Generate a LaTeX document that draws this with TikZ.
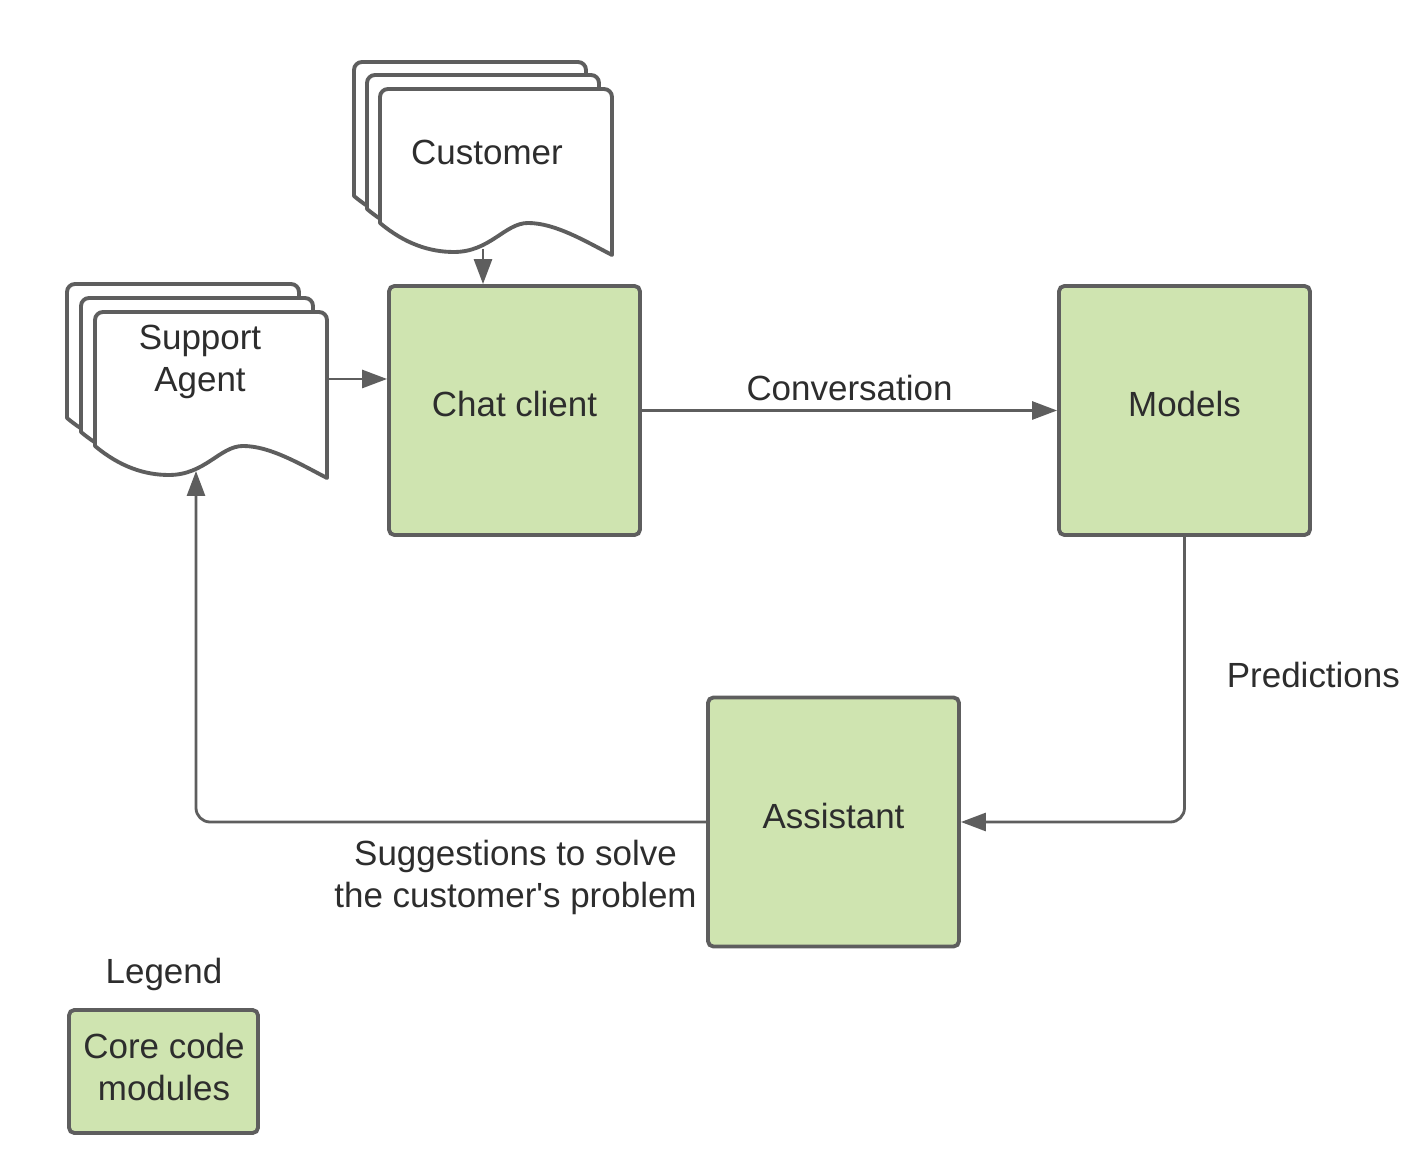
\documentclass[tikz,border=0pt]{standalone}
\usepackage{fontspec}
\setmainfont{Liberation Sans}
\usetikzlibrary{arrows.meta}
\definecolor{coregreen}{RGB}{207,228,176}
\definecolor{edgegray}{RGB}{94,94,94}
\definecolor{txtgray}{RGB}{45,45,45}
\tikzset{
  core/.style={draw=edgegray, line width=2.2pt, fill=coregreen, rounded corners=3pt, inner sep=0pt},
  mainbox/.style={core, minimum width=5.02cm, minimum height=4.98cm, text depth=7.4pt},
  page/.style={draw=edgegray, line width=2.2pt, fill=white, line join=round},
  conn/.style={draw=edgegray, line width=1.6pt, -{Triangle[length=0.5cm,width=0.36cm]}},
  lbl/.style={inner sep=0pt, align=center}
}
\newcommand\docpage[2]{%
  \path[page, shift={(#1,#2)}] (0,134) -- (0,8) .. controls (0,3.6) and (3.6,0) .. (8,0)
    -- (224,0) .. controls (228.4,0) and (232,3.6) .. (232,8) -- (232,166)
    .. controls (205,152) and (175,134) .. (148,134)
    .. controls (125,134) and (110,163) .. (74,163)
    .. controls (50,163) and (25,155) .. (0,134) -- cycle;}
\begin{document}
\begin{tikzpicture}[x=0.02cm, y=-0.02cm, font=\fontsize{19.9}{23.9}\selectfont, text=txtgray]
\useasboundingbox[fill=white] (0,0) rectangle (1428,1168);

% Customer stack
\docpage{354}{62}
\docpage{367}{75}
\docpage{380}{89}
\node[lbl] (customer) at (487,152) {Customer};
\coordinate (custout) at (483,249);

% Support agent stack
\docpage{67}{284}
\docpage{81}{298}
\docpage{95}{312}
\node[lbl] (agent) at (200,362) {Support\\Agent};
\coordinate (agentout) at (327,379);
\coordinate (agentin) at (196,471);

% Core boxes
\node[mainbox] (chat) at (514.5,410.5) {Chat client};
\node[mainbox] (models) at (1184.5,410.5) {Models};
\node[mainbox] (assistant) at (833.5,822) {Assistant};

% Connectors
\draw[conn] (custout) -- (custout |- chat.north);
\draw[conn] (agentout) -- (agentout -| chat.west);
\draw[conn] (chat.east) -- node[lbl, midway, above=4.8pt] (conv) {Conversation} (models.west);
\draw[conn, rounded corners=8pt] (models.south) |- node[lbl, pos=0.25, anchor=west, xshift=0.82cm, yshift=0.08cm] (pred) {Predictions} (assistant.east);
\draw[conn, rounded corners=8pt] (assistant.west) -| (agentin);
\node[lbl, anchor=north east] (sugg) at (697,840) {Suggestions to solve\\the customer\textquotesingle s problem};

% Legend
\node[lbl] (legend) at (164,974) {Legend};
\node[core, minimum width=3.78cm, minimum height=2.46cm] (legbox) at (163.5,1071.5) {};
\node[lbl] (legtext) at (164,1067) {Core code\\modules};
\end{tikzpicture}
\end{document}
